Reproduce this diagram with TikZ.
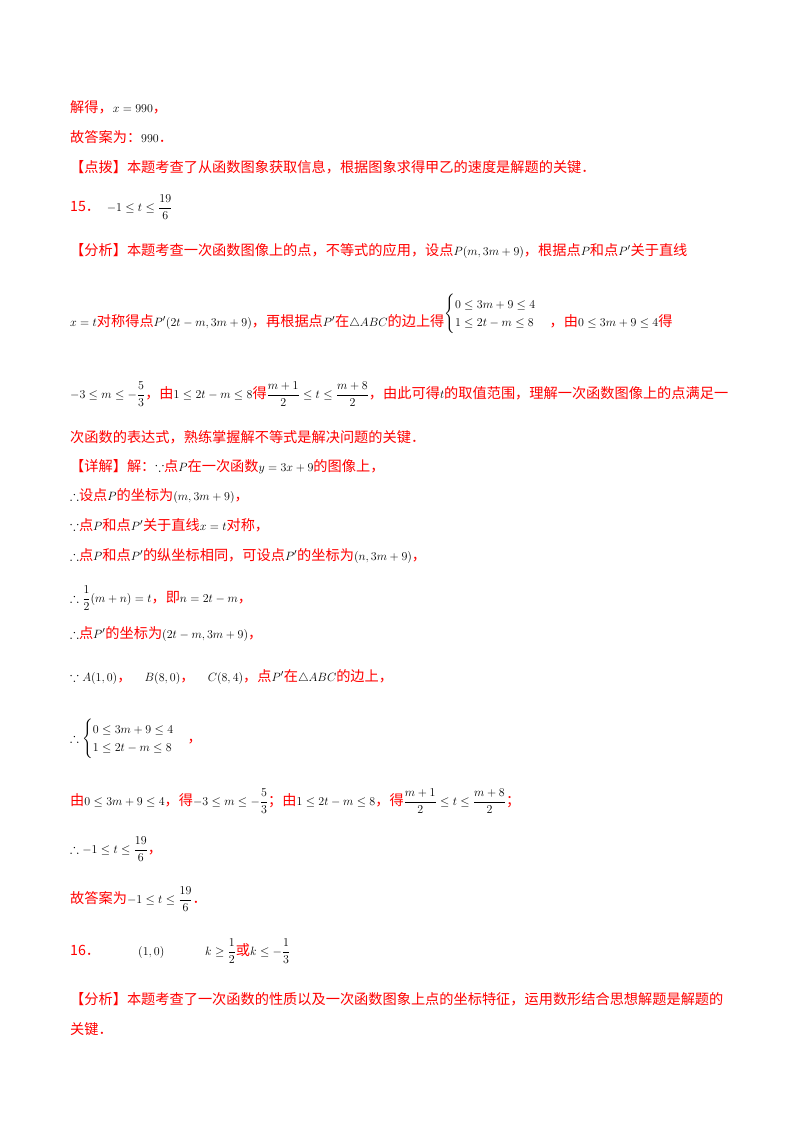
\documentclass[tikz,border=0pt]{standalone}
\usepackage{amsmath,amssymb}
\usepackage{fontspec}
\setmainfont{Noto Sans CJK SC}
\newcommand{\rt}[1]{{\fontsize{14.2}{17}\selectfont\textcolor{red}{#1}}}
\begin{document}
\begin{tikzpicture}[x=1pt,y=-1pt,
  ln/.style={anchor=base west,inner sep=0pt,font=\fontsize{13.2}{15}\selectfont}]
\useasboundingbox (0,0) rectangle (800,1132);
\node[ln] (l1) at (70,112) {\rt{解得，}$x=990$\rt{，}};
\node[ln] (l2) at (70,142) {\rt{故答案为：}$990$\rt{．}};
\node[ln] (l3) at (70,172) {\rt{【点拨】本题考查了从函数图象获取信息，根据图象求得甲乙的速度是解题的关键．}};
\node[ln] (l4) at (70,211) {\rt{15．}\enspace$-1\le t\le\dfrac{19}{6}$};
\node[ln] (l5) at (70,255) {\rt{【分析】本题考查一次函数图像上的点，不等式的应用，设点}$P(m,3m+9)$\rt{，根据点}$P$\rt{和点}$P'$\rt{关于直线}};
\node[ln] (l6) at (70,326) {$x=t$\rt{对称得点}$P'(2t-m,3m+9)$\rt{，再根据点}$P'$\rt{在}$\triangle ABC$\rt{的边上得}\raisebox{9pt}{$\begin{cases}0\le 3m+9\le 4\\ 1\le 2t-m\le 8\end{cases}$}\rt{，由}$0\le 3m+9\le 4$\rt{得}};
\node[ln] (l7) at (70,398) {$-3\le m\le-\dfrac{5}{3}$\rt{，由}$1\le 2t-m\le 8$\rt{得}$\dfrac{m+1}{2}\le t\le\dfrac{m+8}{2}$\rt{，由此可得}$t$\rt{的取值范围，理解一次函数图像上的点满足一}};
\node[ln] (l8) at (70,442) {\rt{次函数的表达式，熟练掌握解不等式是解决问题的关键．}};
\node[ln] (l9) at (70,471) {\rt{【详解】解：}$\because$\rt{点}$P$\rt{在一次函数}$y=3x+9$\rt{的图像上，}};
\node[ln] (l10) at (70,500) {$\therefore$\rt{设点}$P$\rt{的坐标为}$(m,3m+9)$\rt{，}};
\node[ln] (l11) at (70,530) {$\because$\rt{点}$P$\rt{和点}$P'$\rt{关于直线}$x=t$\rt{对称，}};
\node[ln] (l12) at (70,560) {$\therefore$\rt{点}$P$\rt{和点}$P'$\rt{的纵坐标相同，可设点}$P'$\rt{的坐标为}$(n,3m+9)$\rt{，}};
\node[ln] (l13) at (70,602) {$\therefore\dfrac{1}{2}(m+n)=t$\rt{，即}$n=2t-m$\rt{，}};
\node[ln] (l14) at (70,638) {$\therefore$\rt{点}$P'$\rt{的坐标为}$(2t-m,3m+9)$\rt{，}};
\node[ln] (l15) at (70,681) {$\because A(1,0)$\rt{，}\quad$B(8,0)$\rt{，}\quad$C(8,4)$\rt{，点}$P'$\rt{在}$\triangle ABC$\rt{的边上，}};
\node[ln] (l16) at (70,742) {$\therefore\begin{cases}0\le 3m+9\le 4\\ 1\le 2t-m\le 8\end{cases}$\rt{，}};
\node[ln] (l17) at (70,805) {\rt{由}$0\le 3m+9\le 4$\rt{，得}$-3\le m\le-\dfrac{5}{3}$\rt{；由}$1\le 2t-m\le 8$\rt{，得}$\dfrac{m+1}{2}\le t\le\dfrac{m+8}{2}$\rt{；}};
\node[ln] (l18) at (70,853) {$\therefore -1\le t\le\dfrac{19}{6}$\rt{，}};
\node[ln] (l19) at (70,903) {\rt{故答案为}$-1\le t\le\dfrac{19}{6}$\rt{．}};
\node[ln] (l20) at (70,955) {\rt{16．}};
\node[ln] (l21) at (138,955) {$(1,0)$};
\node[ln] (l22) at (205,955) {$k\ge\dfrac{1}{2}$\rt{或}$k\le-\dfrac{1}{3}$};
\node[ln] (l23) at (70,1004) {\rt{【分析】本题考查了一次函数的性质以及一次函数图象上点的坐标特征，运用数形结合思想解题是解题的}};
\node[ln] (l24) at (70,1034) {\rt{关键．}};
\end{tikzpicture}
\end{document}
